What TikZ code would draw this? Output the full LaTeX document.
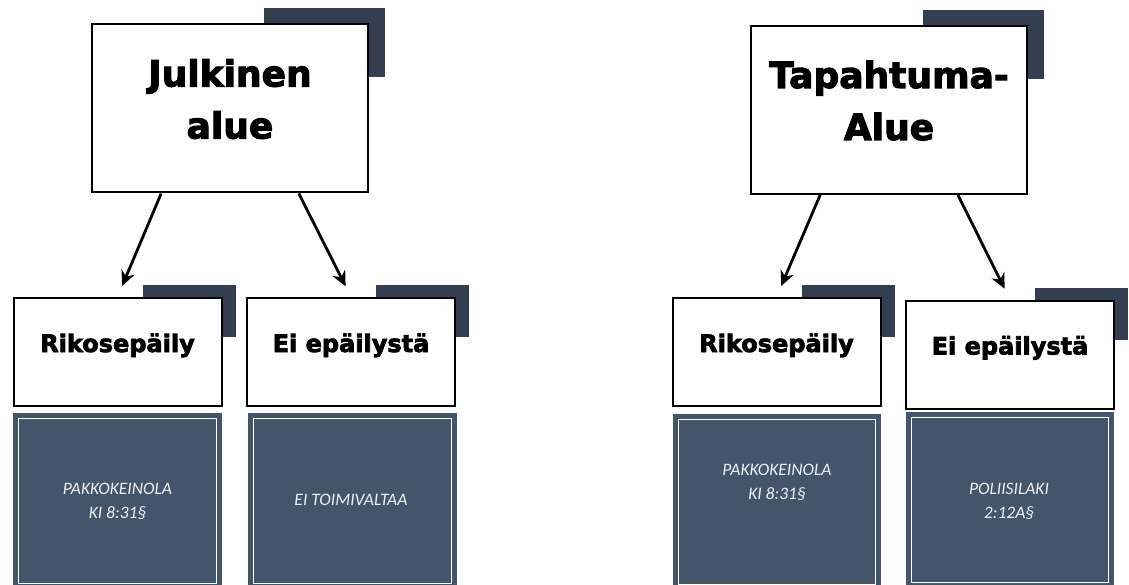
\documentclass[tikz,border=0pt]{standalone}
\usepackage{fontspec}
\usetikzlibrary{arrows.meta,backgrounds}
\newfontfamily\headfont{DejaVu Sans}[BoldFeatures={FakeBold=3}]
\newfontfamily\lawfont{Carlito}
\definecolor{darkslate}{HTML}{333F50}
\definecolor{lawblue}{HTML}{44546A}
\definecolor{lawtext}{HTML}{EDEFF2}

\begin{document}
\begin{tikzpicture}[x=1pt,y=-1pt,
  topbox/.style={draw,fill=white,line width=2pt,
    minimum width=276pt,minimum height=168pt,align=center,
    font=\headfont\bfseries\fontsize{36}{52}\selectfont,
    text height=80pt,text depth=20pt},
  subbox/.style={draw,fill=white,line width=2pt,
    minimum width=208pt,minimum height=108pt,
    font=\headfont\bfseries\fontsize{24}{29}\selectfont,
    text height=12pt,text depth=12pt},
  lawbox/.style={fill=lawblue,draw=lawblue,line width=5pt,
    double=white,double distance=1.4pt,outer sep=0pt,
    minimum width=197.5pt,minimum height=164.5pt,anchor=north},
  lawtxt/.style={text=lawtext,align=center,
    font=\lawfont\itshape\fontsize{17.5}{24}\selectfont},
  arr/.style={-{Stealth[length=15pt,width=14pt]},line width=2.8pt,
    shorten >=12pt}]
\useasboundingbox (0,0) rectangle (1129,585);

% top level
\node[topbox] (jul) at (230,108.5) {Julkinen\\alue};
\node[topbox] (tap) at (889,110) {Tapahtuma-\\Alue};

% second level
\node[subbox] (rik1) at (117.5,352) {Rikosepäily};
\node[subbox] (eps1) at (351,352) {Ei epäilystä};
\node[subbox] (rik2) at (776.5,352) {Rikosepäily};
\node[subbox] (eps2) at (1010,354.5) {Ei epäilystä};

% law boxes
\node[lawbox] (law1) at (117.5,418.75) {};
\node[lawbox] (law2) at (352.5,418.75) {};
\node[lawbox] (law3) at (777,419.75) {};
\node[lawbox] (law4) at (1010,417.75) {};
\node[lawtxt] (law1t) at (117.5,501) {PAKKOKEINOLA\\KI 8:31§};
\node[lawtxt] (law2t) at (351,500) {EI TOIMIVALTAA};
\node[lawtxt] (law3t) at (777,482) {PAKKOKEINOLA\\KI 8:31§};
\node[lawtxt] (law4t) at (1009,501) {POLIISILAKI\\2:12A§};

% arrows
\draw[arr] (jul.231.6) -- (rik1.north);
\draw[arr] (jul.309.6) -- (eps1.north);
\draw[arr] (tap.231.4) -- (rik2.north);
\draw[arr] (tap.309.4) -- (eps2.north);

\begin{scope}[on background layer]
\fill[white] (0,0) rectangle (1129,585);
\foreach \n in {jul,tap}
  \fill[darkslate] ([shift={(-105,-15)}]\n.north east)
    rectangle ([shift={(16,54)}]\n.north east);
\foreach \n in {rik1,eps1,rik2,eps2}
  \fill[darkslate] ([shift={(-80,-12)}]\n.north east)
    rectangle ([shift={(13,40)}]\n.north east);
\end{scope}
\end{tikzpicture}
\end{document}
